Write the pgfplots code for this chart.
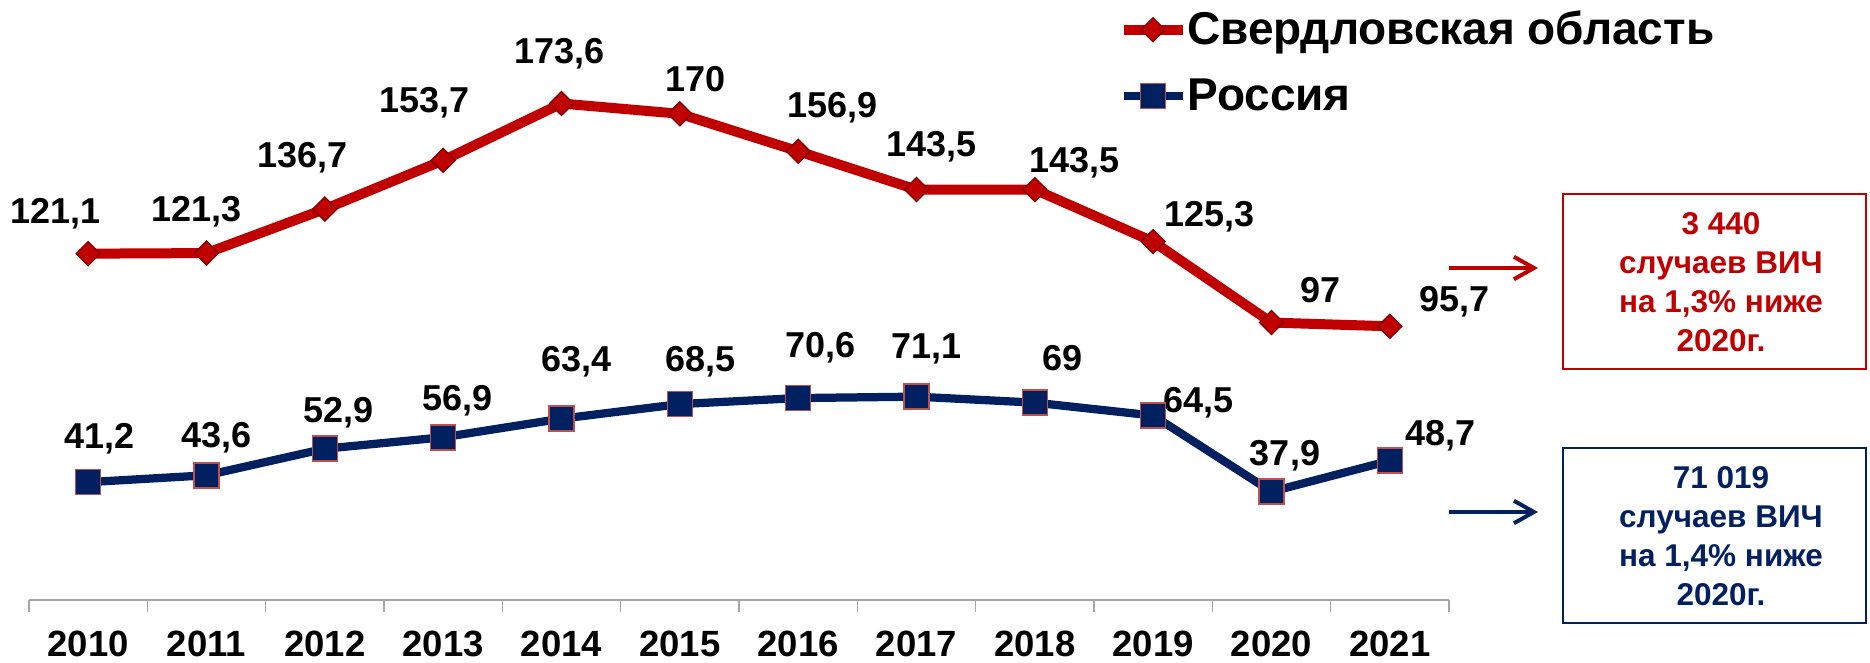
\documentclass[border=0pt]{standalone}
\usepackage{graphicx}
\usepackage{pgfplots}
\pgfplotsset{compat=1.18}
\usepackage{fontspec}
\setmainfont{Liberation Sans}
\usetikzlibrary{arrows.meta}
\definecolor{svred}{HTML}{C00000}
\definecolor{rusblue}{HTML}{002060}
\definecolor{mkred}{HTML}{C0504D}
\definecolor{dkred}{HTML}{800000}
\tikzset{lbl/.style={font={\fontsize{14.4pt}{15pt}\selectfont\bfseries}, text depth=0pt},
  boxtxt/.style={font={\fontsize{12.6pt}{15.6pt}\selectfont\bfseries}, align=center}}
\begin{document}
\begin{tikzpicture}
\path[use as bounding box] (0,0) rectangle (748pt,265.2pt);
\begin{axis}[
  at={(11.6pt,25.2pt)}, anchor=south west,
  scale only axis, width=568pt, height=228.8pt,
  xmin=-0.5, xmax=11.5, ymin=0, ymax=200,
  axis x line*=bottom, axis y line=none,
  x axis line style={draw=gray!70, line width=0.6pt, -},
  xtick={0,...,11},
  xticklabels={2010,2011,2012,2013,2014,2015,2016,2017,2018,2019,2020,2021},
  major tick length=0pt,
  minor xtick={-0.5,0.5,...,11.5},
  minor tick length=4.7pt,
  xtick align=outside,
  minor tick style={draw=gray!70, line width=0.6pt},
  xticklabel style={font={\fontsize{14.6pt}{15pt}\selectfont\bfseries}, inner sep=0pt, anchor=north, yshift=-12.4pt},
  clip=false,
  legend image code/.code={\draw[mark repeat=2,mark phase=2] plot coordinates {(0pt,0pt)(11.8pt,0pt)(23.6pt,0pt)};},
  legend style={at={(0.7669,1.0305)}, anchor=north west, draw=none, fill=none, inner sep=0pt,
    font={\fontsize{18.4pt}{20pt}\selectfont\bfseries}, row sep=12pt,
    nodes={inner sep=0pt}, /tikz/every even column/.append style={column sep=1pt}},
  legend cell align=left,
]
\addplot[svred, line width=4pt, mark=square*, mark size=3.4pt,
  mark options={rotate=45, fill=svred, draw=dkred, line width=0.5pt}]
  coordinates {(0,121.1)(1,121.3)(2,136.7)(3,153.7)(4,173.6)(5,170)(6,156.9)(7,143.5)(8,143.5)(9,125.3)(10,97)(11,95.7)};
\addlegendentry{Свердловская область}
\addplot[rusblue, line width=3.3pt, mark=square*, mark size=5pt,
  mark options={fill=rusblue, draw=mkred, line width=0.6pt}]
  coordinates {(0,41.2)(1,43.6)(2,52.9)(3,56.9)(4,63.4)(5,68.5)(6,70.6)(7,71.1)(8,69)(9,64.5)(10,37.9)(11,48.7)};
\addlegendentry{Россия}
% labels Sverdlovsk
\node[lbl, xshift=-13pt, yshift=16.9pt] at (axis cs:0,121.1) {121,1};
\node[lbl, xshift=-3.9pt, yshift=17.5pt] at (axis cs:1,121.3) {121,3};
\node[lbl, xshift=-8.9pt, yshift=21.5pt] at (axis cs:2,136.7) {136,7};
\node[lbl, xshift=-7.6pt, yshift=24pt] at (axis cs:3,153.7) {153,7};
\node[lbl, xshift=-0.9pt, yshift=20.9pt] at (axis cs:4,173.6) {173,6};
\node[lbl, xshift=6.4pt, yshift=14.1pt] at (axis cs:5,170) {170};
\node[lbl, xshift=13.7pt, yshift=18.4pt] at (axis cs:6,156.9) {156,9};
\node[lbl, xshift=6.1pt, yshift=18.1pt] at (axis cs:7,143.5) {143,5};
\node[lbl, xshift=15.8pt, yshift=12pt] at (axis cs:8,143.5) {143,5};
\node[lbl, xshift=22.7pt, yshift=10.9pt] at (axis cs:9,125.3) {125,3};
\node[lbl, xshift=19.7pt, yshift=13pt] at (axis cs:10,97) {97};
\node[lbl, xshift=26pt, yshift=10.8pt] at (axis cs:11,95.7) {95,7};
% labels Russia
\node[lbl, xshift=4.7pt, yshift=18.5pt] at (axis cs:0,41.2) {41,2};
\node[lbl, xshift=4.1pt, yshift=16pt] at (axis cs:1,43.6) {43,6};
\node[lbl, xshift=5.4pt, yshift=15.4pt] at (axis cs:2,52.9) {52,9};
\node[lbl, xshift=5.7pt, yshift=15.9pt] at (axis cs:3,56.9) {56,9};
\node[lbl, xshift=6pt, yshift=24pt] at (axis cs:4,63.4) {63,4};
\node[lbl, xshift=8.3pt, yshift=18pt] at (axis cs:5,68.5) {68,5};
\node[lbl, xshift=9pt, yshift=21.2pt] at (axis cs:6,70.6) {70,6};
\node[lbl, xshift=4.1pt, yshift=20.3pt] at (axis cs:7,71.1) {71,1};
\node[lbl, xshift=11.1pt, yshift=18pt] at (axis cs:8,69) {69};
\node[lbl, xshift=18.3pt, yshift=6.2pt] at (axis cs:9,64.5) {64,5};
\node[lbl, xshift=5.4pt, yshift=15.3pt] at (axis cs:10,37.9) {37,9};
\node[lbl, xshift=20.4pt, yshift=11pt] at (axis cs:11,48.7) {48,7};
\end{axis}
% annotation boxes
\draw[svred, line width=0.7pt] (625.2pt,117.6pt) rectangle (746.4pt,187.6pt);
\node[text=svred, boxtxt] at (688.4pt,152.4pt) {3 440\\случаев ВИЧ\\на 1,3\% ниже\\2020г.};
\draw[rusblue, line width=0.7pt] (625.2pt,16pt) rectangle (746.4pt,86pt);
\node[text=rusblue, boxtxt] at (688.4pt,50.6pt) {71 019\\случаев ВИЧ\\на 1,4\% ниже\\2020г.};
\draw[svred, line width=1.6pt, -{Straight Barb[length=8pt,width=9pt]}] (579.6pt,158pt) -- (615.2pt,158pt);
\draw[rusblue, line width=1.6pt, -{Straight Barb[length=8pt,width=9pt]}] (579.6pt,60.4pt) -- (615.2pt,60.4pt);
\end{tikzpicture}
\end{document}
